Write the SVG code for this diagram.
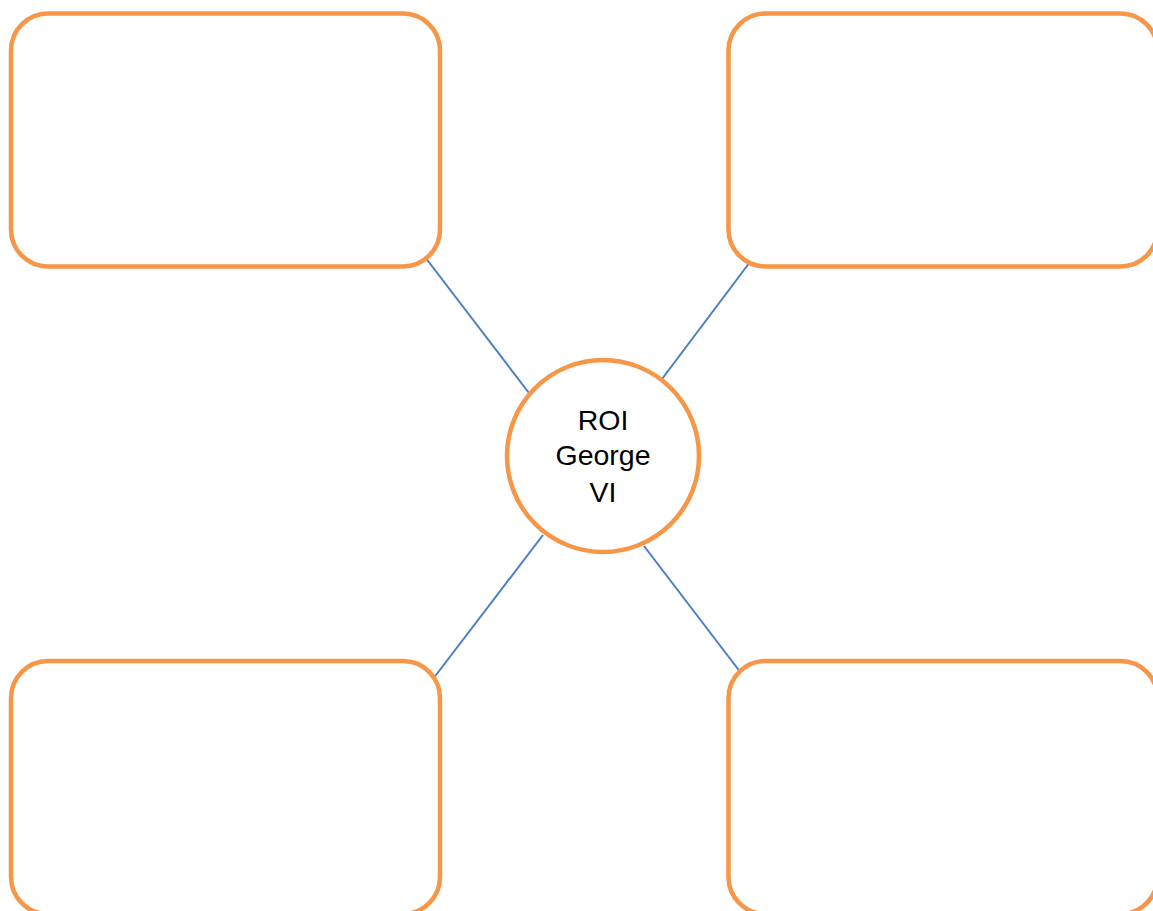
<svg xmlns="http://www.w3.org/2000/svg" width="1153" height="911" viewBox="0 0 1153 911">
<style>
.box{fill:#ffffff;stroke:#f79646;stroke-width:4.5}
.conn{stroke:#4a7ebf;stroke-width:2;fill:none}
.lbl{font-family:"Liberation Sans",Arial,sans-serif;font-size:28.5px;fill:#000000;text-anchor:middle}
</style>
<rect width="1153" height="911" fill="#ffffff"/>
<g id="connectors">
<line class="conn" x1="425" y1="257" x2="529" y2="393"/>
<line class="conn" x1="750" y1="262" x2="662" y2="379"/>
<line class="conn" x1="543" y1="535" x2="433" y2="679"/>
<line class="conn" x1="644" y1="546" x2="741" y2="673"/>
</g>
<g id="box-top-left"><rect class="box" x="11" y="13.5" width="429" height="253" rx="37"/></g>
<g id="box-top-right"><rect class="box" x="728.5" y="13.5" width="429" height="253" rx="37"/></g>
<g id="box-bottom-left"><rect class="box" x="11" y="661" width="429" height="253" rx="37"/></g>
<g id="box-bottom-right"><rect class="box" x="728.5" y="661" width="429" height="253" rx="37"/></g>
<g id="center">
<circle class="box" cx="603" cy="456" r="96"/>
<text class="lbl" x="603" y="430">ROI</text>
<text class="lbl" x="603" y="465">George</text>
<text class="lbl" x="603" y="502">VI</text>
</g>
</svg>
